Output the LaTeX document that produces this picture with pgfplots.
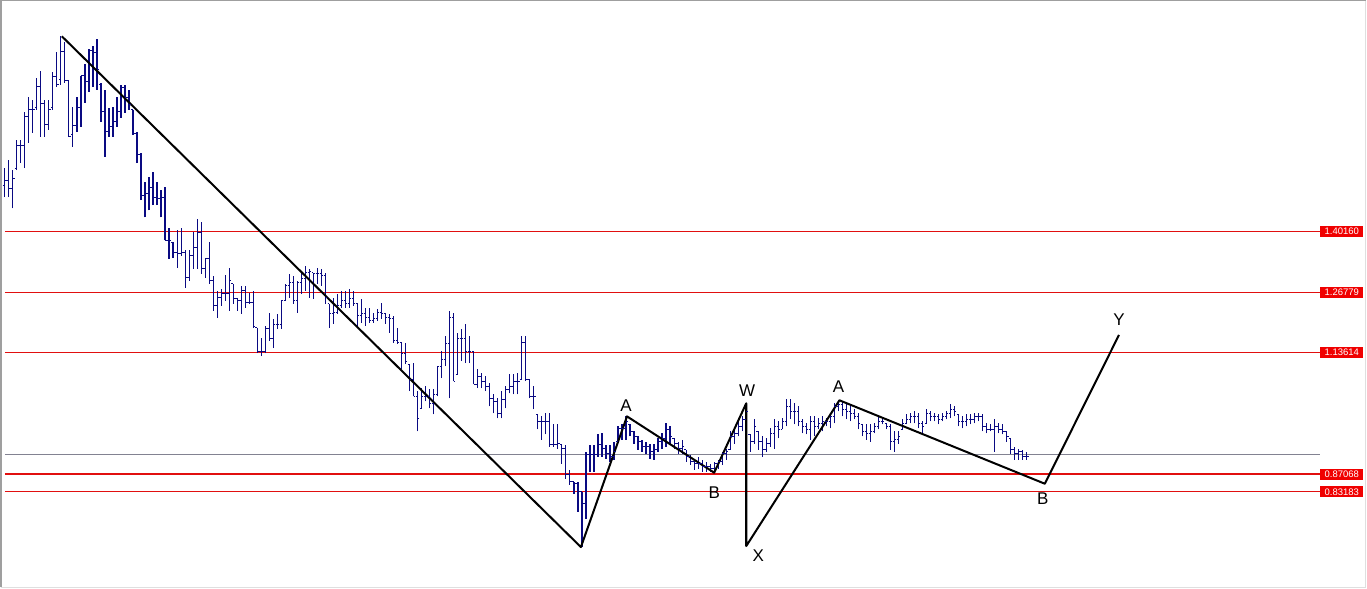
\documentclass[border=0pt]{standalone}
\usepackage{pgfplots}
\usepackage{pgfplotstable}
\pgfplotsset{compat=1.18}
\usepackage{fontspec}
\setmainfont{Liberation Sans}

\definecolor{barcol}{RGB}{10,10,130}
\definecolor{lvlred}{RGB}{225,15,15}
\definecolor{tagred}{RGB}{240,0,0}
\definecolor{midgray}{RGB}{130,130,145}

% open tick to the left, close tick to the right
\pgfdeclareplotmark{otick}{\pgfpathmoveto{\pgfpoint{-1.8bp}{0pt}}\pgfpathlineto{\pgfpoint{0pt}{0pt}}\pgfusepathqstroke}
\pgfdeclareplotmark{ctick}{\pgfpathmoveto{\pgfpoint{0pt}{0pt}}\pgfpathlineto{\pgfpoint{1.8bp}{0pt}}\pgfusepathqstroke}

\pgfplotstableread{
i o h l c
0 1.5028 1.5402 1.4764 1.5138
1 1.5138 1.5578 1.4764 1.4962
2 1.4962 1.5358 1.4522 1.5182
3 1.5402 1.6018 1.5358 1.5886
4 1.5886 1.6018 1.5512 1.5886
5 1.5886 1.6634 1.5402 1.6524
6 1.6524 1.6964 1.5952 1.6678
7 1.6678 1.6898 1.6172 1.6678
8 1.6722 1.7382 1.6678 1.7184
9 1.7184 1.7536 1.6084 1.6810
10 1.6810 1.6898 1.6084 1.6348
11 1.6348 1.6898 1.6238 1.6678
12 1.6722 1.7514 1.6678 1.7404
13 1.7404 1.7932 1.7184 1.7228
14 1.7338 1.8284 1.7228 1.7954
15 1.7954 1.8152 1.7272 1.7316
16 1.7316 1.7338 1.6084 1.6084
17 1.6128 1.6744 1.5864 1.6326
18 1.6326 1.6964 1.6194 1.6722
19 1.6722 1.7426 1.6304 1.7426
20 1.7426 1.7668 1.6832 1.7294
21 1.7294 1.7998 1.7074 1.7976
22 1.7976 1.8064 1.7184 1.7932
23 1.7932 1.8218 1.7118 1.7558
24 1.7228 1.7272 1.6414 1.6634
25 1.6634 1.7118 1.5644 1.6194
26 1.6194 1.6722 1.6084 1.6304
27 1.6304 1.6744 1.6084 1.6414
28 1.6414 1.6964 1.6304 1.6634
29 1.6634 1.7228 1.6502 1.7162
30 1.7162 1.7228 1.6612 1.6942
31 1.6942 1.7118 1.6678 1.6788
32 1.6678 1.6678 1.6128 1.6150
33 1.6150 1.6194 1.5512 1.5688
34 1.5688 1.5732 1.4698 1.4808
35 1.4808 1.5094 1.4324 1.4852
36 1.4852 1.5204 1.4478 1.4984
37 1.4984 1.5314 1.4588 1.4764
38 1.4764 1.5094 1.4588 1.4742
39 1.4742 1.4918 1.4324 1.4764
40 1.4764 1.4984 1.3818 1.3818
41 1.3818 1.4082 1.3422 1.3818
42 1.3774 1.3774 1.3444 1.3554
43 1.3554 1.4038 1.3224 1.3532
44 1.3532 1.4082 1.3488 1.3554
45 1.3554 1.3598 1.2784 1.3004
46 1.3004 1.3598 1.2938 1.3488
47 1.3488 1.3994 1.3202 1.3664
48 1.3664 1.4280 1.3202 1.3994
49 1.3994 1.4214 1.3092 1.3202
50 1.3202 1.3422 1.3004 1.3422
51 1.3422 1.3774 1.2872 1.2938
52 1.2938 1.3048 1.2278 1.2388
53 1.2388 1.2718 1.2124 1.2564
54 1.2564 1.2762 1.2388 1.2652
55 1.2652 1.3070 1.2498 1.2652
56 1.2652 1.3224 1.2278 1.2938
57 1.2872 1.2872 1.2432 1.2542
58 1.2542 1.2564 1.2278 1.2498
59 1.2498 1.2828 1.2212 1.2718
60 1.2718 1.2828 1.2344 1.2454
61 1.2454 1.2674 1.2432 1.2454
62 1.2454 1.2718 1.1904 1.1926
63 1.1904 1.1904 1.1354 1.1398
64 1.1398 1.1684 1.1288 1.1398
65 1.1398 1.1948 1.1354 1.1882
66 1.1882 1.2234 1.1618 1.1662
67 1.1662 1.2102 1.1464 1.1970
68 1.1970 1.2212 1.1882 1.1970
69 1.1970 1.2498 1.1882 1.2498
70 1.2498 1.2872 1.2498 1.2828
71 1.2828 1.3092 1.2564 1.2894
72 1.2894 1.3048 1.2432 1.2498
73 1.2498 1.2938 1.2234 1.2894
74 1.2894 1.3114 1.2652 1.2982
75 1.2982 1.3268 1.2718 1.3114
76 1.3114 1.3202 1.2564 1.3136
77 1.3114 1.3114 1.2542 1.3092
78 1.3092 1.3224 1.2872 1.3092
79 1.3092 1.3202 1.2828 1.3048
80 1.3048 1.3114 1.2432 1.2564
81 1.2432 1.2432 1.1904 1.2212
82 1.2212 1.2564 1.1992 1.2234
83 1.2234 1.2652 1.2212 1.2388
84 1.2388 1.2718 1.2344 1.2498
85 1.2498 1.2718 1.2344 1.2432
86 1.2432 1.2762 1.2344 1.2542
87 1.2542 1.2718 1.2388 1.2432
88 1.2432 1.2454 1.1904 1.2168
89 1.2168 1.2542 1.2014 1.2212
90 1.2212 1.2344 1.1948 1.2124
91 1.2124 1.2344 1.2014 1.2058
92 1.2058 1.2234 1.2014 1.2102
93 1.2102 1.2322 1.2058 1.2234
94 1.2234 1.2454 1.2102 1.2212
95 1.2212 1.2234 1.1992 1.2124
96 1.2124 1.2212 1.1794 1.2102
97 1.2102 1.2168 1.1574 1.1618
98 1.1618 1.1904 1.1552 1.1574
99 1.1574 1.1574 1.1002 1.1354
100 1.1354 1.1574 1.1112 1.1178
101 1.1112 1.1112 1.0518 1.0782
102 1.0782 1.1134 1.0408 1.0408
103 1.0408 1.0518 0.9638 0.9924
104 1.0144 1.0584 1.0144 1.0408
105 1.0408 1.0628 1.0298 1.0408
106 1.0408 1.0562 1.0144 1.0254
107 1.0254 1.0562 1.0012 1.0452
108 1.0452 1.1068 1.0408 1.1068
109 1.1068 1.1398 1.0804 1.1222
110 1.1222 1.1728 1.1068 1.1552
111 1.1552 1.2278 1.0364 1.2124
112 1.2124 1.2234 1.0738 1.0738
113 1.0892 1.1794 1.0892 1.1662
114 1.1662 1.1882 1.1178 1.1662
115 1.1662 1.1992 1.1134 1.1398
116 1.1398 1.1728 1.1134 1.1398
117 1.1398 1.1398 1.0672 1.0672
118 1.0672 1.1002 1.0584 1.0848
119 1.0848 1.0914 1.0584 1.0738
120 1.0738 1.0848 1.0518 1.0628
121 1.0628 1.0694 1.0188 1.0364
122 1.0364 1.0452 1.0034 1.0298
123 1.0298 1.0364 0.9924 1.0034
124 1.0034 1.0518 0.9924 1.0342
125 1.0342 1.0628 1.0144 1.0562
126 1.0562 1.0892 1.0474 1.0628
127 1.0628 1.0892 1.0452 1.0738
128 1.0738 1.0914 1.0452 1.0738
129 1.0782 1.1728 1.0782 1.1574
130 1.1574 1.1728 1.0738 1.0782
131 1.0782 1.0782 1.0364 1.0408
132 1.0408 1.0628 1.0122 1.0408
133 1.0012 1.0012 0.9682 0.9858
134 0.9858 0.9968 0.9462 0.9858
135 0.9858 1.0034 0.9572 0.9858
136 0.9858 1.0034 0.9308 0.9352
137 0.9352 0.9792 0.9308 0.9352
138 0.9352 0.9792 0.9264 0.9374
139 0.9352 0.9352 0.8934 0.9264
140 0.9264 0.9352 0.8604 0.8692
141 0.8692 0.8802 0.8472 0.8538
142 0.8538 0.8538 0.8274 0.8494
143 0.8494 0.8538 0.7878 0.8318
144 0.8318 0.8318 0.7108 0.8054
145 0.8054 0.9198 0.7724 0.9132
146 0.9132 0.9352 0.8758 0.9132
147 0.9132 0.9352 0.8758 0.9132
148 0.9132 0.9572 0.9088 0.9352
149 0.9352 0.9594 0.9088 0.9264
150 0.9264 0.9352 0.9044 0.9154
151 0.9154 0.9352 0.8978 0.9088
152 0.9088 0.9418 0.9022 0.9198
153 0.9418 0.9748 0.9418 0.9704
154 0.9704 0.9792 0.9462 0.9704
155 0.9704 0.9968 0.9462 0.9858
156 0.9792 0.9792 0.9528 0.9638
157 0.9638 0.9638 0.9374 0.9528
158 0.9528 0.9528 0.9242 0.9418
159 0.9418 0.9462 0.9198 0.9308
160 0.9308 0.9418 0.9154 0.9308
161 0.9308 0.9374 0.9044 0.9198
162 0.9198 0.9374 0.9022 0.9242
163 0.9242 0.9484 0.9198 0.9418
164 0.9418 0.9594 0.9264 0.9484
165 0.9484 0.9814 0.9308 0.9682
166 0.9682 0.9748 0.9352 0.9528
167 0.9484 0.9484 0.9264 0.9374
168 0.9374 0.9418 0.9154 0.9264
169 0.9264 0.9462 0.9154 0.9308
170 0.9242 0.9242 0.8978 0.9088
171 0.9088 0.9132 0.8912 0.8978
172 0.8978 0.9044 0.8802 0.8934
173 0.8934 0.9088 0.8824 0.8934
174 0.8934 0.9022 0.8758 0.8868
175 0.8868 0.8978 0.8758 0.8868
176 0.8868 0.8934 0.8758 0.8824
177 0.8824 0.8978 0.8736 0.8934
178 0.8934 0.9022 0.8824 0.8978
179 0.8978 0.9198 0.8912 0.9154
180 0.9154 0.9264 0.9022 0.9198
181 0.9242 0.9638 0.9242 0.9528
182 0.9528 0.9682 0.9374 0.9594
183 0.9594 0.9902 0.9528 0.9748
184 0.9748 0.9968 0.9638 0.9902
185 0.9902 1.0210 0.9704 1.0078
186 0.9572 0.9572 0.9198 0.9418
187 0.9418 0.9902 0.9374 0.9748
188 0.9638 0.9638 0.9242 0.9418
189 0.9418 0.9528 0.9088 0.9242
190 0.9242 0.9484 0.9198 0.9374
191 0.9374 0.9704 0.9308 0.9594
192 0.9594 0.9902 0.9264 0.9748
193 0.9748 0.9858 0.9484 0.9682
194 0.9682 0.9924 0.9682 0.9858
195 0.9858 1.0342 0.9748 1.0188
196 1.0188 1.0342 0.9902 1.0078
197 1.0078 1.0254 0.9792 1.0078
198 1.0078 1.0188 0.9748 0.9858
199 0.9858 0.9902 0.9594 0.9748
200 0.9748 0.9814 0.9572 0.9682
201 0.9682 0.9968 0.9462 0.9858
202 0.9858 0.9968 0.9528 0.9748
203 0.9748 0.9924 0.9682 0.9814
204 0.9814 0.9968 0.9638 0.9858
205 0.9858 0.9924 0.9748 0.9858
206 0.9858 1.0012 0.9704 0.9968
207 0.9968 1.0254 0.9814 1.0188
208 1.0188 1.0320 1.0078 1.0232
209 1.0232 1.0298 0.9968 1.0122
210 1.0122 1.0232 0.9902 1.0078
211 1.0078 1.0188 0.9858 1.0034
212 1.0034 1.0122 0.9902 0.9968
213 0.9968 1.0034 0.9682 0.9814
214 0.9792 0.9792 0.9528 0.9638
215 0.9638 0.9792 0.9462 0.9594
216 0.9594 0.9792 0.9418 0.9638
217 0.9638 0.9814 0.9594 0.9748
218 0.9748 0.9968 0.9682 0.9858
219 0.9858 0.9902 0.9792 0.9858
220 0.9814 0.9814 0.9682 0.9748
221 0.9748 0.9792 0.9242 0.9418
222 0.9418 0.9638 0.9198 0.9462
223 0.9462 0.9638 0.9374 0.9528
224 0.9682 0.9902 0.9682 0.9814
225 0.9814 1.0012 0.9792 0.9902
226 0.9902 1.0034 0.9814 0.9968
227 0.9968 1.0078 0.9814 0.9968
228 0.9968 1.0034 0.9704 0.9814
229 0.9814 0.9858 0.9594 0.9748
230 0.9814 1.0122 0.9814 1.0034
231 1.0034 1.0078 0.9858 0.9968
232 0.9968 1.0034 0.9858 0.9968
233 0.9968 1.0012 0.9792 0.9902
234 0.9902 1.0034 0.9858 0.9968
235 0.9968 1.0078 0.9902 1.0034
236 1.0034 1.0232 0.9924 1.0122
237 1.0122 1.0188 0.9968 1.0078
238 1.0012 1.0012 0.9748 0.9858
239 0.9858 0.9968 0.9704 0.9858
240 0.9858 1.0012 0.9748 0.9902
241 0.9902 1.0012 0.9792 0.9902
242 0.9902 1.0034 0.9814 0.9968
243 0.9968 1.0034 0.9858 0.9968
244 0.9968 1.0012 0.9638 0.9748
245 0.9748 0.9814 0.9594 0.9682
246 0.9682 0.9792 0.9638 0.9682
247 0.9682 0.9902 0.9198 0.9748
248 0.9748 0.9814 0.9594 0.9682
249 0.9682 0.9792 0.9572 0.9638
250 0.9638 0.9638 0.9418 0.9528
251 0.9484 0.9484 0.9154 0.9242
252 0.9242 0.9308 0.9022 0.9154
253 0.9154 0.9264 0.9022 0.9198
254 0.9198 0.9242 0.9022 0.9088
255 0.9088 0.9198 0.9022 0.9088
}\bars

\begin{document}
\begin{tikzpicture}
\begin{axis}[
    width        = 1367bp,
    height       = 589bp,
    scale only axis,
    hide axis,
    xmin         = -1.375,
    xmax         = 340.375,
    ymin         = 0.61745,
    ymax         = 1.90883,
    clip         = false]

    % window frame
    \draw[gray!75, line width=1.5bp] (rel axis cs:0.0011,0.004) -- (rel axis cs:0.0011,0.998) -- (rel axis cs:0.998,0.998);
    \draw[gray!25, line width=1bp] (rel axis cs:0.0011,0.0045) -- (rel axis cs:0.9978,0.0045) -- (rel axis cs:0.9978,0.998);

    % level lines
    \addplot[lvlred, line width=1.2bp] coordinates {(0,1.40160) (328.25,1.40160)};
    \addplot[lvlred, line width=1.2bp] coordinates {(0,1.26779) (328.25,1.26779)};
    \addplot[lvlred, line width=1.2bp] coordinates {(0,1.13614) (328.25,1.13614)};
    \addplot[lvlred, line width=1.2bp] coordinates {(0,0.87068) (328.25,0.87068)};
    \addplot[lvlred, line width=1.2bp] coordinates {(0,0.83183) (328.25,0.83183)};
    \addplot[midgray, line width=1.1bp] coordinates {(0,0.9126) (328.25,0.9126)};

    % OHLC bars
    \addplot[barcol, line width=1.2bp, quiver={u=0, v=\thisrow{h}-\thisrow{l}}] table[x=i, y=l] {\bars};
    \addplot[barcol, line width=1bp, only marks, mark=otick] table[x=i, y=o] {\bars};
    \addplot[barcol, line width=1bp, only marks, mark=ctick] table[x=i, y=c] {\bars};

    % wave count
    \addplot[black, line width=2bp, line join=round] coordinates {
        (14.25,1.8284) (143.75,0.7108) (155.25,0.9968) (177,0.8736)
        (185,1.0254) (185,0.7130) (208.25,1.0320) (259.5,0.8494) (278,1.1750)};

    \begin{scope}[every node/.style={font=\fontsize{17}{20}\selectfont}]
        \node at (axis cs:155,1.0210)   {A};
        \node at (axis cs:177,0.8296)   {B};
        \node at (axis cs:185.25,1.0540){W};
        \node at (axis cs:188,0.6910)   {X};
        \node at (axis cs:208,1.0628)   {A};
        \node at (axis cs:259,0.8164)   {B};
        \node at (axis cs:278,1.2080)   {Y};
    \end{scope}

    % price tags
    \begin{scope}[every node/.style={fill=tagred, text=white, inner sep=0pt,
            minimum width=43bp, minimum height=11bp, font=\fontsize{9.5}{10}\selectfont}]
        \node at (axis cs:333.6,1.40160) {1.40160};
        \node at (axis cs:333.6,1.26779) {1.26779};
        \node at (axis cs:333.6,1.13614) {1.13614};
        \node at (axis cs:333.6,0.87068) {0.87068};
        \node at (axis cs:333.6,0.83183) {0.83183};
    \end{scope}
\end{axis}
\end{tikzpicture}
\end{document}
